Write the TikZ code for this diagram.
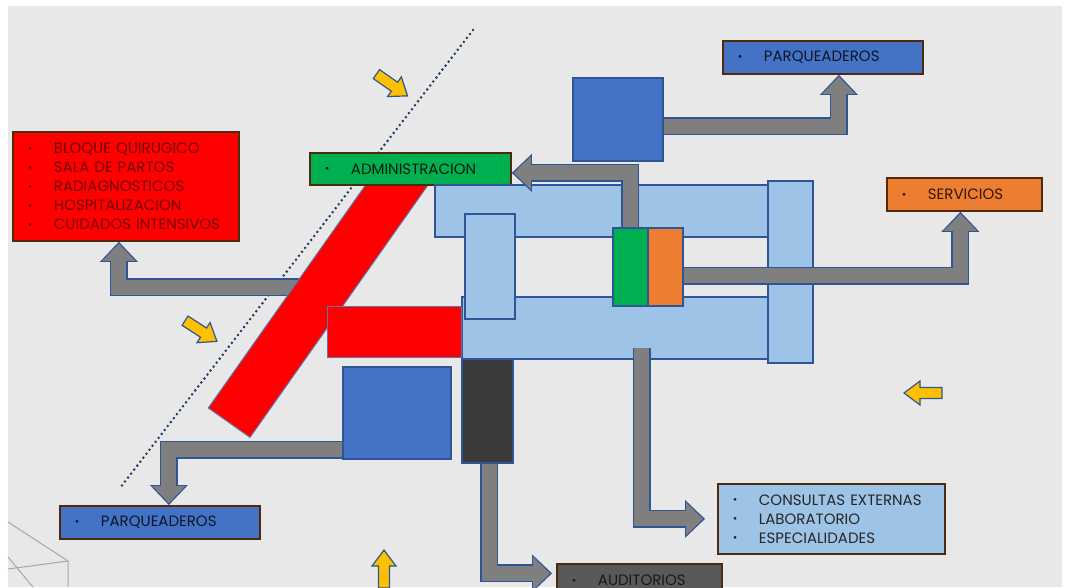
\documentclass[tikz,border=0pt]{standalone}
\usepackage{fontspec}
\setmainfont{Poppins}
\usetikzlibrary{arrows.meta}

\definecolor{fondo}{HTML}{E8E8E8}
\definecolor{celeste}{HTML}{9DC3E6}
\definecolor{azulmed}{HTML}{4472C4}
\definecolor{azulborde}{HTML}{2F5597}
\definecolor{verde}{HTML}{00B050}
\definecolor{naranja}{HTML}{ED7D31}
\definecolor{oscuro}{HTML}{3A3A3A}
\definecolor{grisaud}{HTML}{595959}
\definecolor{gristubo}{HTML}{7F7F7F}
\definecolor{marron}{HTML}{4E2A0E}
\definecolor{amarillo}{HTML}{FFC000}
\definecolor{marino}{HTML}{203864}
\definecolor{rojotexto}{HTML}{700000}

\newcommand\vin{\makebox[27pt][l]{\hspace{1pt}\raisebox{1.5pt}{\fontsize{11}{11}\selectfont\textbullet}}}

\tikzset{
  blk/.style={draw=azulborde, line width=1.5pt, inner sep=0pt, anchor=north west},
  caja/.style={draw=marron, line width=1.8pt, anchor=north west, inner xsep=14pt,
    inner ysep=0pt, align=left, font=\fontsize{15}{19}\selectfont},
  tubo/.style={draw=gristubo, line width=15pt, shorten >=2pt,
    -{Triangle[length=17pt, width=33pt, line width=0pt]},
    preaction={draw=azulborde, line width=18pt, shorten >=0pt,
      -{Triangle[length=20pt, width=38pt, line width=0pt]}}},
  flechita/.pic={
    \draw[draw=azulborde, fill=amarillo, line width=1.2pt]
      (-19,-5.5) -- (3,-5.5) -- (3,-12) -- (19,0) -- (3,12) -- (3,5.5) -- (-19,5.5) -- cycle;
  }
}

\begin{document}
\begin{tikzpicture}[x=1pt,y=-1pt]
  \useasboundingbox (0,0) rectangle (1068,587);
  \clip (0,0) rectangle (1068,587);
  \fill[white] (0,0) rectangle (1068,587);
  \fill[fondo] (8,6) rectangle (1062,587);

  % wireframe corner
  \draw[gray!70, line width=1pt] (8,522) -- (68,561) -- (68,587) (8,569) -- (68,561) (8,557) -- (33,587);

  % dotted boundary
  \coordinate (lim1) at (473,30);
  \coordinate (lim2) at (120,488);
  \draw[marino, line width=2.8pt, line cap=round, dash pattern=on 0pt off 5pt] (lim1) -- (lim2);

  % sun / wind
  \pic[rotate=-35] at (392,85) {flechita};
  \pic[rotate=-33] at (201,331) {flechita};
  \pic[rotate=180] at (923,393) {flechita};
  \pic[rotate=90] at (384,569) {flechita};

  % labels
  \node[caja, fill=red, text=rojotexto, text width=198pt, minimum height=109pt] (lquiro) at (12,131)
    {\vin BLOQUE QUIRUGICO\\\vin SALA DE PARTOS\\\vin RADIAGNOSTICOS\\\vin HOSPITALIZACION\\\vin CUIDADOS INTENSIVOS};
  \node[caja, fill=azulmed, text=black!80!azulmed, text width=172pt, minimum height=33pt] (lparq1) at (722,40)
    {\vin PARQUEADEROS};
  \node[caja, fill=naranja, text=black!80!naranja, text width=127pt, minimum height=33pt] (lserv) at (886,177)
    {\vin SERVICIOS};
  \node[caja, fill=celeste, text=black!85, text width=199pt, minimum height=70pt] (lcons) at (717,483)
    {\vin CONSULTAS EXTERNAS\\\vin LABORATORIO\\\vin ESPECIALIDADES};
  \node[caja, fill=azulmed, text=black!80!azulmed, text width=172pt, minimum height=33pt] (lparq2) at (59,505)
    {\vin PARQUEADEROS};
  \node[caja, fill=grisaud, text=black!90, text width=137pt, minimum height=33pt] (laud) at (556,563)
    {\vin AUDITORIOS};

  % hospitalization wing and its outlet
  \coordinate (toma) at (305,287);
  \draw[tubo] (toma) -| ([xshift=-7pt]lquiro.south);
  \node[draw=azulborde!80, line width=1pt, fill=red, inner sep=0pt, minimum width=310pt,
    minimum height=51pt, rotate=54.8] (barra) at (318.5,296) {};
  \node[caja, fill=verde, text=black!85!verde, text width=173pt, minimum height=32pt] (ladmin) at (309,152)
    {\vin ADMINISTRACION};

  % blocks
  \node[blk, fill=celeste, minimum width=336pt, minimum height=52pt] (barsup) at (434,184) {};
  \node[blk, fill=celeste, minimum width=309pt, minimum height=62pt] (barinf) at (461,296) {};
  \node[blk, fill=celeste, minimum width=50pt, minimum height=105pt] (pilar) at (464,213) {};
  \node[blk, fill=celeste, minimum width=45pt, minimum height=182pt] (ala) at (767,180) {};
  \node[blk, draw=azulborde!80, line width=1pt, fill=red, minimum width=134pt, minimum height=51pt] (quiro) at (327,306) {};
  \node[blk, fill=verde, minimum width=35pt, minimum height=78pt] (adm) at (612,227) {};
  \node[blk, fill=naranja, minimum width=35pt, minimum height=78pt] (serv) at (647,227) {};
  \node[blk, fill=azulmed, minimum width=90pt, minimum height=83pt] (parq1) at (572,77) {};
  \node[blk, fill=azulmed, minimum width=108pt, minimum height=92pt] (parq2) at (342,366) {};
  \node[blk, fill=oscuro, minimum width=51pt, minimum height=104pt] (aud) at (461,358) {};

  % connections
  \draw[tubo] ([yshift=-7pt]parq1.east) -| ([xshift=16pt]lparq1.south);
  \draw[tubo] (adm.north) |- ([yshift=-4pt]ladmin.east);
  \draw[tubo] ([yshift=-9pt]serv.east) -| ([xshift=-4pt]lserv.south);
  \draw[tubo] ([yshift=10pt]parq2.south west) -| ([xshift=9pt]lparq2.north);
  \draw[tubo] ([xshift=25.5pt,yshift=-20pt]barinf.center) |- ([xshift=-12pt]lcons.west);
  \draw[tubo] ([xshift=2pt]aud.south) |- ([xshift=-4pt,yshift=7pt]laud.west);
\end{tikzpicture}
\end{document}
